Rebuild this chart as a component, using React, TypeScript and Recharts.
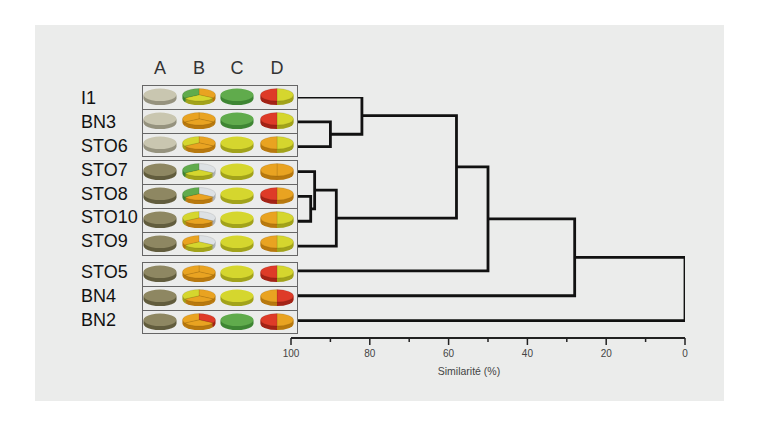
import React from 'react';
import { LineChart, Line, XAxis, YAxis, PieChart, Pie, Cell } from 'recharts';

// ---------- data ----------
const leaves = ['I1', 'BN3', 'STO6', 'STO7', 'STO8', 'STO10', 'STO9', 'STO5', 'BN4', 'BN2'];
const columns = ['A', 'B', 'C', 'D'];

// merges: [child, child, similarity %]; clusters are named m0, m1, ... in order
const merges: [string, string, number][] = [
  ['BN3', 'STO6', 90],
  ['I1', 'm0', 82],
  ['STO8', 'STO10', 95],
  ['STO7', 'm2', 94],
  ['m3', 'STO9', 88.5],
  ['m1', 'm4', 58],
  ['m5', 'STO5', 50],
  ['m6', 'BN4', 28],
  ['m7', 'BN2', 0],
];

const axisTicks = [100, 90, 80, 70, 60, 50, 40, 30, 20, 10, 0];
const labeledTicks = [100, 80, 60, 40, 20, 0];

// pie slices (equal shares), clockwise from 12 o'clock
const pieA = [['beige'], ['beige'], ['beige'], ['olive'], ['olive'], ['olive'], ['olive'], ['olive'], ['olive'], ['olive']];
const pieB = [
  ['orange', 'yellow', 'green'],
  ['orange', 'orange', 'orange'],
  ['orange', 'orange', 'yellow'],
  ['gray', 'yellow', 'green'],
  ['gray', 'orange', 'green'],
  ['gray', 'orange', 'yellow'],
  ['gray', 'yellow', 'orange'],
  ['orange', 'orange', 'orange'],
  ['orange', 'orange', 'yellow'],
  ['red', 'orange', 'orange'],
];
const pieC = [['green'], ['green'], ['yellow'], ['yellow'], ['yellow'], ['yellow'], ['yellow'], ['yellow'], ['yellow'], ['green']];
const pieD = [
  ['yellow', 'red'],
  ['yellow', 'red'],
  ['yellow', 'orange'],
  ['orange', 'orange'],
  ['orange', 'red'],
  ['yellow', 'orange'],
  ['yellow', 'orange'],
  ['yellow', 'red'],
  ['red', 'orange'],
  ['orange', 'red'],
];

// groups of rows in the table
const groups = [3, 4, 3];

// ---------- styles ----------
const FACE: Record<string, string> = {
  green: '#60ab4c',
  orange: '#e9a321',
  yellow: '#d5d62e',
  red: '#de3b28',
  gray: '#dde1e4',
  beige: '#c9c6b0',
  olive: '#8e8762',
};
const SIDE: Record<string, string> = {
  green: '#3f8634',
  orange: '#b8790f',
  yellow: '#a2a31b',
  red: '#a32417',
  gray: '#aeb3b6',
  beige: '#96937f',
  olive: '#625d3e',
};

const FONT = '"Liberation Sans", Arial, Helvetica, sans-serif';
const groupTops = [85, 160, 262];
const ROW_H = 24;
const colX = [160, 199, 237, 277];
const labelY = [98, 122, 146, 170, 194, 217, 241, 272, 296, 320];

// ---------- dendrogram geometry (from tree) ----------
const nodes: Record<string, { y: number; sim: number }> = {};
leaves.forEach((l, i) => (nodes[l] = { y: i, sim: 100 }));
const links = merges.map(([a, b, s], i) => {
  const A = nodes[a];
  const B = nodes[b];
  nodes['m' + i] = { y: (A.y + B.y) / 2, sim: s };
  return [
    { x: A.sim, y: A.y },
    { x: s, y: A.y },
    { x: s, y: B.y },
    { x: B.sim, y: B.y },
  ];
});

const Tick = (props: any) => {
  const { x, y, payload } = props;
  const major = labeledTicks.includes(payload.value);
  return (
    <g>
      <line x1={x} x2={x} y1={y} y2={y + (major ? 7 : 4)} stroke="#222" strokeWidth={1.5} />
      {major && (
        <text x={x} y={y + 19} textAnchor="middle" fontSize={10} fill="#444" fontFamily={FONT}>
          {payload.value}
        </text>
      )}
    </g>
  );
};

function Pie3D({ slices, cx, cy }: { slices: string[]; cx: number; cy: number }) {
  const S = 0.38;
  const W = 36;
  const R = 16.5;
  const T = 10.5;
  const H = W + T + 2;
  const data = slices.map((c, i) => ({ name: String(i), value: 1, c }));
  const multi = slices.length > 1;
  return (
    <div
      style={{
        position: 'absolute',
        left: cx - W / 2,
        top: cy - (W / 2) * S,
        width: W,
        height: H,
        transform: `scaleY(${S})`,
        transformOrigin: 'top left',
      }}
    >
      <PieChart width={W} height={H} margin={{ top: 0, left: 0, right: 0, bottom: 0 }}>
        {[T, T * 0.75, T * 0.5, T * 0.25].map((off) => (
          <Pie
            key={'s' + off}
            data={data}
            dataKey="value"
            cx={W / 2}
            cy={W / 2 + off}
            outerRadius={R}
            startAngle={90}
            endAngle={-270}
            stroke="none"
            isAnimationActive={false}
          >
            {data.map((d, i) => (
              <Cell key={i} fill={SIDE[d.c]} stroke="none" />
            ))}
          </Pie>
        ))}
        <Pie
          data={data}
          dataKey="value"
          cx={W / 2}
          cy={W / 2}
          outerRadius={R}
          startAngle={90}
          endAngle={-270}
          isAnimationActive={false}
        >
          {data.map((d, i) => (
            <Cell
              key={i}
              fill={FACE[d.c]}
              stroke={multi ? 'rgba(0,0,0,0.14)' : 'none'}
              strokeWidth={multi ? 1 : 0}
            />
          ))}
        </Pie>
      </PieChart>
    </div>
  );
}

export default function App() {
  const pies = [pieA, pieB, pieC, pieD];
  const rowTops: number[] = [];
  groups.forEach((n, g) => {
    for (let r = 0; r < n; r++) rowTops.push(groupTops[g] + r * ROW_H);
  });

  return (
    <div style={{ position: 'absolute', left: 0, top: 0, width: 760, height: 440, background: '#fff', fontFamily: FONT }}>
      <div style={{ position: 'absolute', left: 35, top: 25, width: 689, height: 376, background: '#ebeceb' }} />

      <div style={{ position: 'absolute', left: 0, top: 0 }}>
        <LineChart width={760} height={440} margin={{ top: 97, left: 291, right: 75, bottom: 72 }}>
          <XAxis
            dataKey="x"
            type="number"
            domain={[0, 100]}
            reversed
            ticks={axisTicks}
            interval={0}
            tickLine={false}
            tickSize={0}
            tickMargin={0}
            tick={<Tick />}
            axisLine={{ stroke: '#222', strokeWidth: 2 }}
            height={30}
            allowDataOverflow
            label={{ value: 'Similarité (%)', position: 'bottom', offset: 0, dx: -19, fontSize: 10.5, fill: '#444' }}
          />
          <YAxis type="number" dataKey="y" domain={[0, 9.7]} reversed hide allowDataOverflow />
          {links.map((pts, i) => (
            <Line
              key={i}
              data={pts}
              dataKey="y"
              type="linear"
              dot={false}
              activeDot={false}
              stroke="#111"
              strokeWidth={2.8}
              strokeLinejoin="miter"
              isAnimationActive={false}
            />
          ))}
        </LineChart>
      </div>

      {/* table boxes */}
      {groups.map((n, g) => (
        <div
          key={g}
          style={{
            position: 'absolute',
            left: 142,
            top: groupTops[g],
            width: 156,
            height: n * ROW_H,
            boxSizing: 'border-box',
            border: '1.5px solid #666',
            background: '#ebeceb',
          }}
        >
          {Array.from({ length: n - 1 }).map((_, r) => (
            <div
              key={r}
              style={{ position: 'absolute', left: 0, right: 0, top: (r + 1) * ROW_H - 1.5, height: 0, borderTop: '1.5px solid #666' }}
            />
          ))}
        </div>
      ))}

      {/* column headers */}
      {columns.map((c, i) => (
        <div
          key={c}
          style={{ position: 'absolute', left: colX[i] - 15, width: 30, top: 58, textAlign: 'center', fontSize: 18, color: '#333', lineHeight: '20px' }}
        >
          {c}
        </div>
      ))}

      {/* row labels */}
      {leaves.map((l, i) => (
        <div key={l} style={{ position: 'absolute', left: 81, top: labelY[i] - 10, fontSize: 18, color: '#111', lineHeight: '20px' }}>
          {l}
        </div>
      ))}

      {/* pies */}
      {leaves.map((l, r) =>
        pies.map((col, c) => <Pie3D key={l + c} slices={col[r]} cx={colX[c]} cy={rowTops[r] + 9.5} />)
      )}
    </div>
  );
}
